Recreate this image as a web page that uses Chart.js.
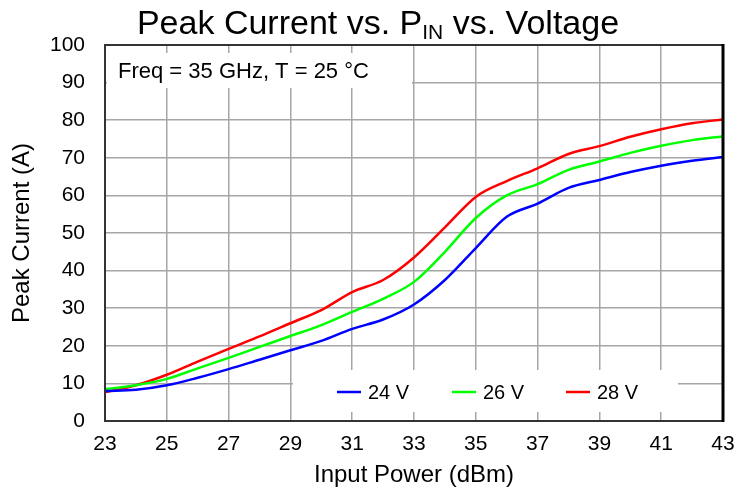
<!DOCTYPE html>
<html>
<head>
<meta charset="utf-8">
<script src="https://cdn.jsdelivr.net/npm/chart.js@4.4.1/dist/chart.umd.min.js"></script>
<style>
  html, body { margin: 0; padding: 0; background: #fff; }
  #wrap { width: 736px; height: 491px; }
</style>
</head>
<body>
<div id="wrap"><canvas id="chart" width="736" height="491"></canvas></div>
<script>
// input power (dBm)
const pin = [23, 24, 25, 26, 27, 28, 29, 30, 31, 32, 33, 34, 35, 36, 37, 38, 39, 40, 41, 42, 43];
// peak current (A) per drain voltage
const i24 = [8.0, 8.3, 9.5, 11.5, 13.8, 16.3, 18.8, 21.3, 24.5, 27.0, 31.0, 37.5, 46.0, 54.3, 57.8, 62.0, 64.1, 66.2, 67.9, 69.2, 70.2];
const i26 = [8.5, 9.5, 11.2, 14.0, 16.8, 19.7, 22.6, 25.5, 29.0, 32.5, 37.0, 45.0, 54.0, 60.0, 63.0, 66.8, 69.0, 71.3, 73.2, 74.7, 75.7];
const i28 = [7.7, 9.5, 12.3, 15.8, 19.2, 22.5, 26.0, 29.5, 34.3, 37.5, 43.5, 51.5, 59.6, 63.8, 67.2, 71.0, 73.1, 75.6, 77.6, 79.2, 80.2];
const seriesNames = ['24 V', '26 V', '28 V'];
const seriesColors = ['#0000ff', '#00ff00', '#ff0000'];

const FONT = '"Liberation Sans", Arial, sans-serif';

function pts(vals) {
  return vals.map((v, k) => ({ x: pin[k], y: v }));
}

// title with subscript, note box, legend box, frame
const decor = {
  id: 'decor',
  beforeDatasetsDraw(chart) {
    const ctx = chart.ctx;
    const a = chart.chartArea;
    ctx.save();
    ctx.fillStyle = '#fff';
    // note box
    ctx.fillRect(a.left + 2, a.top + 8, 305, 35);
    // legend box
    ctx.fillRect(293, 370, 385, 42);
    ctx.restore();
  },
  afterDatasetsDraw(chart) {
    const ctx = chart.ctx;
    const a = chart.chartArea;
    ctx.save();
    // frame
    ctx.strokeStyle = '#333';
    ctx.lineWidth = 2;
    ctx.strokeRect(a.left, a.top, a.right - a.left, a.bottom - a.top);
    ctx.strokeStyle = '#000';
    ctx.lineWidth = 3;
    ctx.beginPath();
    ctx.moveTo(a.right, a.top - 1);
    ctx.lineTo(a.right, a.bottom + 1);
    ctx.stroke();

    // note
    ctx.fillStyle = '#000';
    ctx.textBaseline = 'middle';
    ctx.textAlign = 'left';
    ctx.font = '22px ' + FONT;
    ctx.fillText('Freq = 35 GHz, T = 25 °C', a.left + 13, 72);

    // legend
    const lx = [337, 452, 566];
    ctx.font = '20px ' + FONT;
    for (let k = 0; k < 3; k++) {
      ctx.strokeStyle = seriesColors[k];
      ctx.lineWidth = 2.5;
      ctx.beginPath();
      ctx.moveTo(lx[k], 392);
      ctx.lineTo(lx[k] + 24, 392);
      ctx.stroke();
      ctx.fillStyle = '#000';
      ctx.fillText(seriesNames[k], lx[k] + 31, 393);
    }

    // title: Peak Current vs. P_IN vs. Voltage
    ctx.textBaseline = 'alphabetic';
    const big = '34px ' + FONT, small = '21px ' + FONT;
    const parts = [['Peak Current vs. P', big, 0], ['IN', small, 5], [' vs. Voltage', big, 0]];
    let w = 0;
    parts.forEach(p => { ctx.font = p[1]; w += ctx.measureText(p[0]).width; });
    let x = 378 - w / 2;
    parts.forEach(p => {
      ctx.font = p[1];
      ctx.fillText(p[0], x, 34 + p[2]);
      x += ctx.measureText(p[0]).width;
    });
    ctx.restore();
  }
};

new Chart(document.getElementById('chart'), {
  type: 'line',
  data: {
    datasets: [i24, i26, i28].map((vals, k) => ({
      label: seriesNames[k],
      data: pts(vals),
      borderColor: seriesColors[k],
      borderWidth: 2.5,
      pointRadius: 0,
      tension: 0.4,
      cubicInterpolationMode: 'monotone',
      fill: false
    }))
  },
  options: {
    responsive: false,
    animation: false,
    layout: { padding: { top: 45, right: 13, left: 0, bottom: 0 } },
    plugins: {
      legend: { display: false },
      title: { display: false },
      tooltip: { enabled: false }
    },
    scales: {
      x: {
        type: 'linear',
        min: 23,
        max: 43,
        afterFit: s => { s.height = 70; s.paddingLeft = 0; s.paddingRight = 0; },
        ticks: { stepSize: 2, color: '#000', padding: 11, font: { size: 21, family: FONT } },
        grid: { color: '#a6a6a6', lineWidth: 1.5, drawTicks: false },
        border: { display: false },
        title: { display: true, text: 'Input Power (dBm)', color: '#000', font: { size: 24, family: FONT }, padding: { top: 0, bottom: 1 } }
      },
      y: {
        min: 0,
        max: 100,
        afterFit: s => { s.width = 105; s.paddingTop = 0; s.paddingBottom = 0; },
        ticks: { stepSize: 10, color: '#000', padding: 20, font: { size: 21, family: FONT } },
        grid: { color: '#a6a6a6', lineWidth: 1.5, drawTicks: false },
        border: { display: false },
        title: { display: true, text: 'Peak Current (A)', color: '#000', font: { size: 24, family: FONT }, padding: { top: 8, bottom: 0 } }
      }
    }
  },
  plugins: [decor]
});
</script>
</body>
</html>
